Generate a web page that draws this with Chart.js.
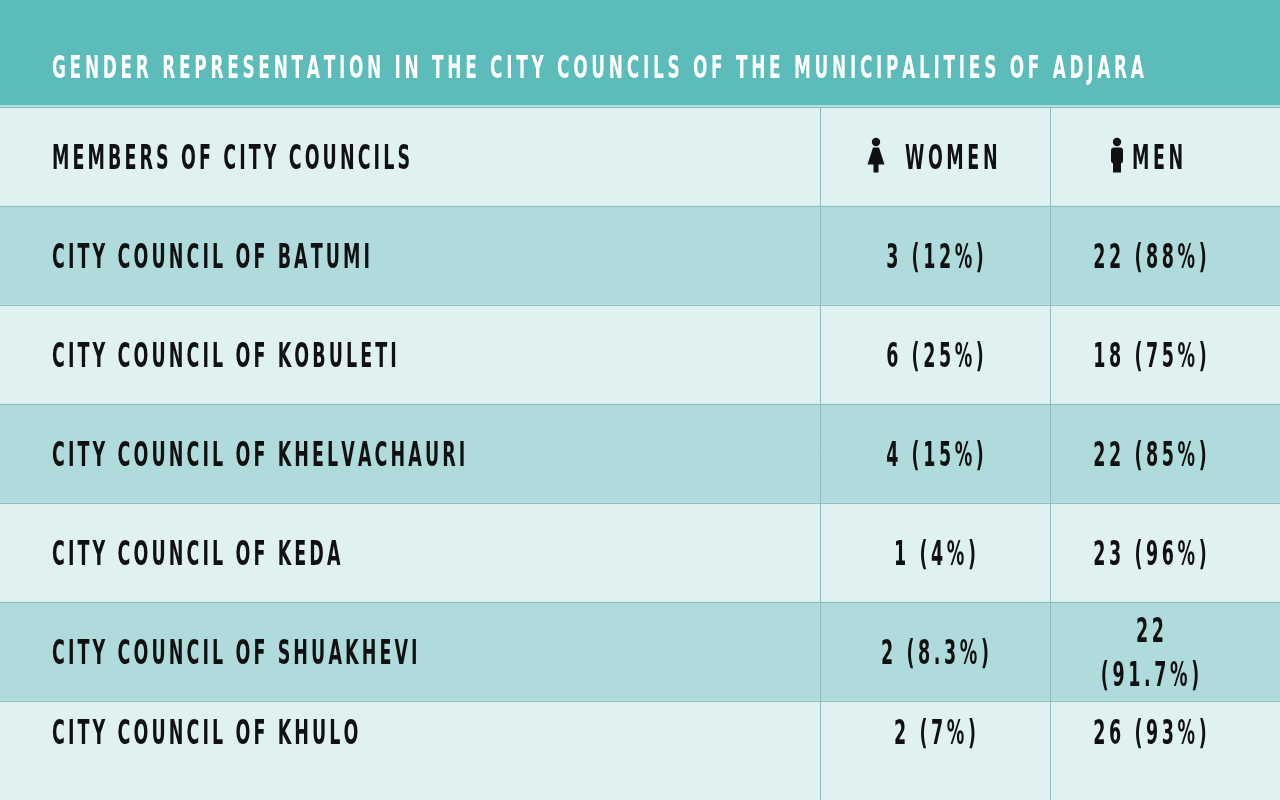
<!DOCTYPE html>
<html><head><meta charset="utf-8">
<script src="https://cdn.jsdelivr.net/npm/chart.js@4.4.1/dist/chart.umd.min.js"></script>
<style>
html,body{margin:0;padding:0;background:#dff1f1;overflow:hidden;}
#wrap{width:1280px;height:800px;position:relative;}
</style>
</head><body>
<div id="wrap"><canvas id="c"></canvas></div>
<script>
// ---------- DATA ----------
const title = 'GENDER REPRESENTATION IN THE CITY COUNCILS OF THE MUNICIPALITIES OF ADJARA';
const columnHeaders = ['MEMBERS OF CITY COUNCILS', 'WOMEN', 'MEN'];
const councils = [
  'CITY COUNCIL OF BATUMI',
  'CITY COUNCIL OF KOBULETI',
  'CITY COUNCIL OF KHELVACHAURI',
  'CITY COUNCIL OF KEDA',
  'CITY COUNCIL OF SHUAKHEVI',
  'CITY COUNCIL OF KHULO'
];
const womenCount = [3, 6, 4, 1, 2, 2];
const womenPct = ['12', '25', '15', '4', '8.3', '7'];
const menCount = [22, 18, 22, 23, 22, 26];
const menPct = ['88', '75', '85', '96', '91.7', '93'];

// ---------- LAYOUT / STYLE ----------
const W = 1280, H = 800;
const TITLE_H = 107;
const COL_EDGES = [0, 820, 1050, W];
const C_TITLE = '#5bbcb9';
const C_LIGHT = '#dff1f1';
const C_DARK = '#afdbdc';
const C_GRID = '#8fbdbd';
const C_TITLE_EDGE = '#b5e0df';
const FONT_FAMILY = '"DejaVu Sans", sans-serif';
const FS = 33, SX = 0.53, LS = 3.1, TITLE_LS = 3.7;
const TEXT_LEFT = 52;
const rowTextAnchor = [0.5, 0.5, 0.5, 0.5, 0.5, 0.5, 0.31];
const WRAP_W = 125;

const rowLabels = ['HEADER'].concat(councils);
const womenCells = womenCount.map((n, i) => n + ' (' + womenPct[i] + '%)');
const menCells = menCount.map((n, i) => n + ' (' + menPct[i] + '%)');

function setFont(ctx, size) {
  ctx.font = 'normal normal bold ' + size + 'px ' + FONT_FAMILY;
}
function textWidth(ctx, str, size, ls) {
  setFont(ctx, size || FS);
  const sp = ls == null ? LS : ls;
  let w = 0;
  for (const ch of str) w += ctx.measureText(ch).width * SX + sp;
  return w - sp;
}
function drawText(ctx, str, x, baseline, opts) {
  opts = opts || {};
  const size = opts.size || FS;
  const sp = opts.ls == null ? LS : opts.ls;
  ctx.save();
  ctx.fillStyle = opts.color || '#111';
  ctx.textAlign = 'left';
  ctx.textBaseline = 'alphabetic';
  const w = textWidth(ctx, str, size, sp);
  let cx = x;
  if (opts.align === 'center') cx = x - w / 2;
  setFont(ctx, size);
  for (const ch of str) {
    ctx.save();
    ctx.translate(cx, baseline);
    ctx.scale(SX, 1);
    ctx.fillText(ch, 0, 0);
    ctx.restore();
    cx += ctx.measureText(ch).width * SX + sp;
  }
  ctx.restore();
  return w;
}
function wrapCell(ctx, str) {
  if (textWidth(ctx, str) <= WRAP_W) return [str];
  const parts = str.split(' ');
  return [parts[0], parts.slice(1).join(' ')];
}
function womanIcon(ctx, cx, top) {
  ctx.save();
  ctx.fillStyle = '#111';
  ctx.beginPath(); ctx.arc(cx, top + 4.5, 4.2, 0, Math.PI * 2); ctx.fill();
  ctx.beginPath();
  ctx.moveTo(cx - 3, top + 10); ctx.lineTo(cx + 3, top + 10);
  ctx.lineTo(cx + 8.5, top + 27); ctx.lineTo(cx - 8.5, top + 27);
  ctx.closePath(); ctx.fill();
  ctx.fillRect(cx - 2.5, top + 26, 5, 9);
  ctx.restore();
}
function manIcon(ctx, cx, top) {
  ctx.save();
  ctx.fillStyle = '#111';
  ctx.beginPath(); ctx.arc(cx, top + 4.5, 4.2, 0, Math.PI * 2); ctx.fill();
  ctx.beginPath();
  if (ctx.roundRect) ctx.roundRect(cx - 6, top + 10, 12, 16, 3); else ctx.rect(cx - 6, top + 10, 12, 16);
  ctx.fill();
  ctx.fillRect(cx - 4, top + 24, 8, 11);
  ctx.restore();
}

const tablePlugin = {
  id: 'tableText',
  beforeDraw(chart) {
    const ctx = chart.ctx;
    ctx.save();
    ctx.fillStyle = C_TITLE;
    ctx.fillRect(0, 0, chart.width, chart.chartArea.top);
    ctx.fillStyle = C_TITLE_EDGE;
    ctx.fillRect(0, chart.chartArea.top - 2, chart.width, 2);
    ctx.restore();
  },
  afterDraw(chart) {
    const ctx = chart.ctx;
    const xs = chart.scales.x, ys = chart.scales.y;
    drawText(ctx, title, xs.getPixelForValue(COL_EDGES[0]) + TEXT_LEFT, 78, { color: '#ffffff', size: 32, ls: TITLE_LS });
    const rowH = ys.getPixelForValue(1) - ys.getPixelForValue(0);
    const c1 = xs.getPixelForValue(COL_EDGES[1]);
    const c2 = xs.getPixelForValue(COL_EDGES[2]);
    rowLabels.forEach((lab, i) => {
      const top = ys.getPixelForValue(i) - rowH / 2;
      const mid = top + rowH * rowTextAnchor[i];
      const base = mid + 12;
      if (i === 0) {
        drawText(ctx, columnHeaders[0], TEXT_LEFT, base);
        womanIcon(ctx, c1 + 56, base - 31);
        drawText(ctx, columnHeaders[1], c1 + 85, base, { ls: 3.6 });
        manIcon(ctx, c2 + 67, base - 31);
        drawText(ctx, columnHeaders[2], c2 + 82, base, { ls: 3.6 });
        return;
      }
      const k = i - 1;
      drawText(ctx, councils[k], TEXT_LEFT, base);
      const cells = [[womenCells[k], (c1 + c2) / 2], [menCells[k], c2 + 100]];
      cells.forEach(([str, cx]) => {
        const lines = wrapCell(ctx, str);
        const gap = 44;
        lines.forEach((ln, j) => {
          const off = (j - (lines.length - 1) / 2) * gap;
          drawText(ctx, ln, cx, base + off, { align: 'center', ls: 3.6 });
        });
      });
    });
  }
};

new Chart(document.getElementById('c'), {
  type: 'bar',
  data: {
    labels: rowLabels,
    datasets: [{
      data: rowLabels.map(() => [COL_EDGES[0], COL_EDGES[3]]),
      backgroundColor: rowLabels.map((_, i) => (i % 2 ? C_DARK : C_LIGHT)),
      barPercentage: 1,
      categoryPercentage: 1,
      borderWidth: 0,
      borderSkipped: false
    }]
  },
  options: {
    indexAxis: 'y',
    responsive: true,
    maintainAspectRatio: false,
    animation: false,
    events: [],
    layout: { padding: { top: TITLE_H, left: 0, right: 0, bottom: 0 } },
    plugins: { legend: { display: false }, tooltip: { enabled: false }, title: { display: false } },
    scales: {
      x: {
        type: 'linear', min: COL_EDGES[0], max: COL_EDGES[3],
        ticks: { display: false },
        border: { display: false },
        grid: { color: C_GRID, lineWidth: 1, drawTicks: false, z: 1 },
        afterBuildTicks: s => { s.ticks = [COL_EDGES[1], COL_EDGES[2]].map(v => ({ value: v })); }
      },
      y: {
        type: 'category',
        ticks: { display: false },
        border: { display: false },
        grid: { offset: true, color: C_GRID, lineWidth: 1, drawTicks: false, z: 1 }
      }
    }
  },
  plugins: [tablePlugin]
});
</script>
</body></html>
